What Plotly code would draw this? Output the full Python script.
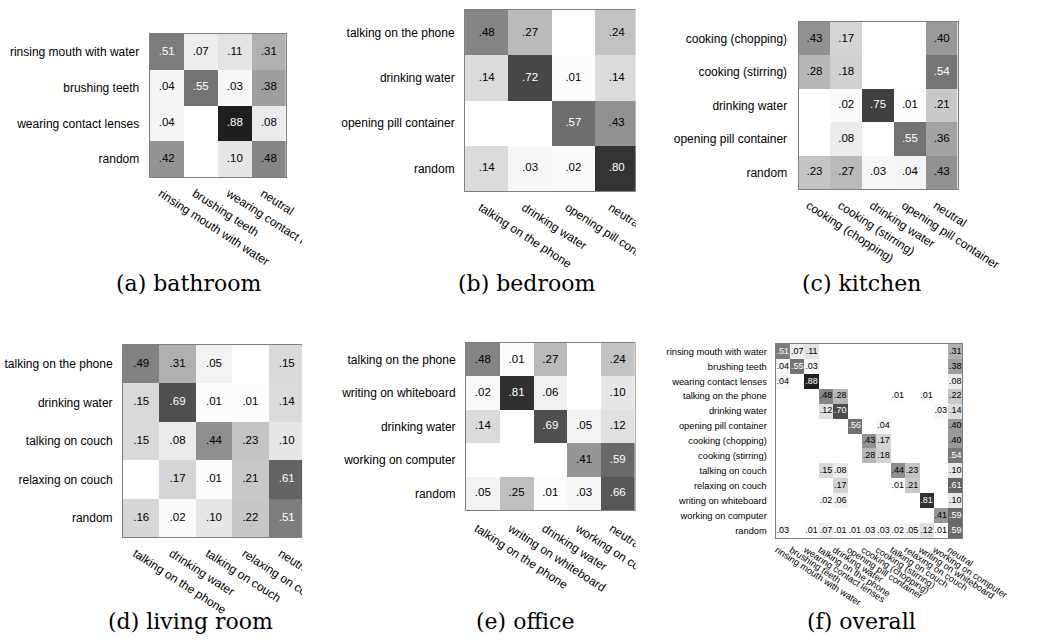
import plotly.graph_objects as go

# ---------------- data ----------------
bathroom_rows = ["rinsing mouth with water", "brushing teeth", "wearing contact lenses", "random"]
bathroom_cols = ["rinsing mouth with water", "brushing teeth", "wearing contact lenses", "neutral"]
bathroom_vals = [
    [.51, .07, .11, .31],
    [.04, .55, .03, .38],
    [.04, 0, .88, .08],
    [.42, 0, .10, .48],
]

bedroom_rows = ["talking on the phone", "drinking water", "opening pill container", "random"]
bedroom_cols = ["talking on the phone", "drinking water", "opening pill container", "neutral"]
bedroom_vals = [
    [.48, .27, 0, .24],
    [.14, .72, .01, .14],
    [0, 0, .57, .43],
    [.14, .03, .02, .80],
]

kitchen_rows = ["cooking (chopping)", "cooking (stirring)", "drinking water",
                "opening pill container", "random"]
kitchen_cols = ["cooking (chopping)", "cooking (stirring)", "drinking water",
                "opening pill container", "neutral"]
kitchen_vals = [
    [.43, .17, 0, 0, .40],
    [.28, .18, 0, 0, .54],
    [0, .02, .75, .01, .21],
    [0, .08, 0, .55, .36],
    [.23, .27, .03, .04, .43],
]

living_rows = ["talking on the phone", "drinking water", "talking on couch",
               "relaxing on couch", "random"]
living_cols = ["talking on the phone", "drinking water", "talking on couch",
               "relaxing on couch", "neutral"]
living_vals = [
    [.49, .31, .05, 0, .15],
    [.15, .69, .01, .01, .14],
    [.15, .08, .44, .23, .10],
    [0, .17, .01, .21, .61],
    [.16, .02, .10, .22, .51],
]

office_rows = ["talking on the phone", "writing on whiteboard", "drinking water",
               "working on computer", "random"]
office_cols = ["talking on the phone", "writing on whiteboard", "drinking water",
               "working on computer", "neutral"]
office_vals = [
    [.48, .01, .27, 0, .24],
    [.02, .81, .06, 0, .10],
    [.14, 0, .69, .05, .12],
    [0, 0, 0, .41, .59],
    [.05, .25, .01, .03, .66],
]

overall_rows = ["rinsing mouth with water", "brushing teeth", "wearing contact lenses",
                "talking on the phone", "drinking water", "opening pill container",
                "cooking (chopping)", "cooking (stirring)", "talking on couch",
                "relaxing on couch", "writing on whiteboard", "working on computer", "random"]
overall_cols = overall_rows[:-1] + ["neutral"]
overall_vals = [
    [.51, .07, .11, 0, 0, 0, 0, 0, 0, 0, 0, 0, .31],
    [.04, .55, .03, 0, 0, 0, 0, 0, 0, 0, 0, 0, .38],
    [.04, 0, .88, 0, 0, 0, 0, 0, 0, 0, 0, 0, .08],
    [0, 0, 0, .48, .28, 0, 0, 0, .01, 0, .01, 0, .22],
    [0, 0, 0, .12, .70, 0, 0, 0, 0, 0, 0, .03, .14],
    [0, 0, 0, 0, 0, .56, 0, .04, 0, 0, 0, 0, .40],
    [0, 0, 0, 0, 0, 0, .43, .17, 0, 0, 0, 0, .40],
    [0, 0, 0, 0, 0, 0, .28, .18, 0, 0, 0, 0, .54],
    [0, 0, 0, .15, .08, 0, 0, 0, .44, .23, 0, 0, .10],
    [0, 0, 0, 0, .17, 0, 0, 0, .01, .21, 0, 0, .61],
    [0, 0, 0, .02, .06, 0, 0, 0, 0, 0, .81, 0, .10],
    [0, 0, 0, 0, 0, 0, 0, 0, 0, 0, 0, .41, .59],
    [.03, 0, .01, .07, .01, .01, .03, .03, .02, .05, .12, .01, .59],
]

captions = ["(a) bathroom", "(b) bedroom", "(c) kitchen",
            "(d) living room", "(e) office", "(f) overall"]

# ---------------- layout of the six panels (pixels) ----------------
W, H = 1059, 641
SANS = "Liberation Sans, Arial, Helvetica, sans-serif"
SERIF = "DejaVu Serif, serif"

panels = [
    dict(rows=bathroom_rows, cols=bathroom_cols, vals=bathroom_vals,
         box=(155, 298, 34, 177), lab=12, cell=11.5, xstand=4, ystand=7, cap=(196, 283)),
    dict(rows=bedroom_rows, cols=bedroom_cols, vals=bedroom_vals,
         box=(486, 668, 10, 191), lab=12, cell=11.5, xstand=4, ystand=7, cap=(550, 283)),
    dict(rows=kitchen_rows, cols=kitchen_cols, vals=kitchen_vals,
         box=(836, 1003, 22, 189), lab=12, cell=11.5, xstand=4, ystand=8, cap=(902, 283)),
    dict(rows=living_rows, cols=living_cols, vals=living_vals,
         box=(127, 318, 345, 537), lab=12, cell=11.5, xstand=4, ystand=7, cap=(198, 621)),
    dict(rows=office_rows, cols=office_cols, vals=office_vals,
         box=(487, 664, 343, 510), lab=12, cell=11.5, xstand=6, ystand=7, cap=(549, 621)),
    dict(rows=overall_rows, cols=overall_cols, vals=overall_vals,
         box=(812, 1008, 344, 538), lab=9.3, cell=9, xstand=2, ystand=6, cap=(902, 621)),
]

gray_scale = [[0.0, "#ffffff"], [1.0, "#000000"]]

fig = go.Figure()
layout_axes = {}

for k, p in enumerate(panels, start=1):
    rows, cols, vals = p["rows"], p["cols"], p["vals"]
    nr, nc = len(rows), len(cols)
    x0, x1, y0, y1 = p["box"]
    xa = "x" if k == 1 else f"x{k}"
    ya = "y" if k == 1 else f"y{k}"

    fig.add_trace(go.Heatmap(
        z=vals, x=list(range(nc)), y=list(range(nr)),
        colorscale=gray_scale, zmin=0, zmax=1, showscale=False,
        hoverinfo="skip", xaxis=xa, yaxis=ya,
    ))

    # cell annotations: value written as ".xx", white on dark cells
    tx, ty, tt, tc = [], [], [], []
    for i in range(nr):
        for j in range(nc):
            v = vals[i][j]
            if v > 0:
                tx.append(j)
                ty.append(i)
                tt.append(f"{v:.2f}".lstrip("0"))
                tc.append("#ffffff" if v >= 0.5 else "#000000")
    fig.add_trace(go.Scatter(
        x=tx, y=ty, text=tt, mode="text",
        textfont=dict(family=SANS, size=p["cell"], color=tc),
        hoverinfo="skip", showlegend=False, xaxis=xa, yaxis=ya,
    ))

    axname_x = "xaxis" if k == 1 else f"xaxis{k}"
    axname_y = "yaxis" if k == 1 else f"yaxis{k}"
    layout_axes[axname_x] = dict(
        domain=[x0 / W, x1 / W], range=[-0.5, nc - 0.5], anchor=ya,
        tickmode="array", tickvals=list(range(nc)), ticktext=cols,
        tickangle=33, ticks="", ticklabelstandoff=p["xstand"], ticklabelshift=-6,
        tickfont=dict(family=SANS, size=p["lab"], color="#000000"),
        showgrid=False, zeroline=False, showline=True, mirror=True,
        linecolor="#7f7f7f", linewidth=1, fixedrange=True,
    )
    layout_axes[axname_y] = dict(
        domain=[1 - y1 / H, 1 - y0 / H], range=[nr - 0.5, -0.5], anchor=xa,
        tickmode="array", tickvals=list(range(nr)), ticktext=rows,
        ticks="", ticklabelstandoff=p["ystand"],
        tickfont=dict(family=SANS, size=p["lab"], color="#000000"),
        showgrid=False, zeroline=False, showline=True, mirror=True,
        linecolor="#7f7f7f", linewidth=1, fixedrange=True,
    )

# captions under each panel
annotations = []
for p, cap in zip(panels, captions):
    cx, cy = p["cap"]
    annotations.append(dict(
        text=cap, x=cx / W, y=1 - cy / H, xref="paper", yref="paper",
        xanchor="center", yanchor="middle", showarrow=False,
        font=dict(family=SERIF, size=22, color="#000000"),
    ))

# white masks trimming the panels that are cut at their right edge
def mask(xa, xb, ya, yb):
    return dict(type="rect", xref="paper", yref="paper", layer="above",
                x0=xa / W, x1=xb / W, y0=1 - yb / H, y1=1 - ya / H,
                fillcolor="#ffffff", line=dict(width=0))

shapes = [
    mask(315, 351, 0, 300),
    mask(665, 701, 0, 300),
    mask(315, 353, 320, 641),
    mask(665, 694, 320, 545),
    mask(665, 760, 545, 641),
]

fig.update_layout(
    width=W, height=H, margin=dict(l=0, r=0, t=0, b=0),
    paper_bgcolor="#ffffff", plot_bgcolor="#ffffff",
    showlegend=False, annotations=annotations, shapes=shapes,
    **layout_axes,
)

fig.write_html("out.html")
